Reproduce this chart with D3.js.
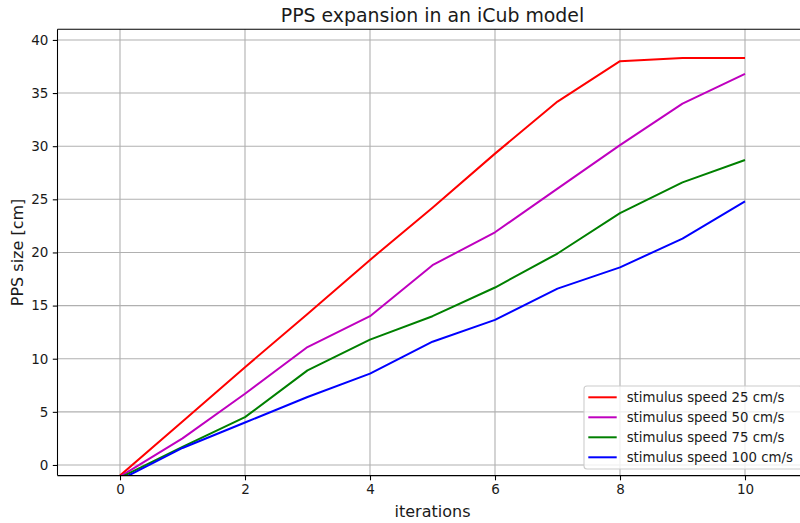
<!DOCTYPE html>
<html>
<head>
<meta charset="utf-8">
<script src="https://cdn.jsdelivr.net/npm/d3@7"></script>
<style>
  html, body { margin: 0; padding: 0; background: #fff; }
  svg { display: block; font-family: "DejaVu Sans", sans-serif; }
</style>
</head>
<body>
<svg id="chart" width="800" height="523"></svg>
<script>
// Iteration index on the x axis
const iterations = [0, 1, 2, 3, 4, 5, 6, 7, 8, 9, 10];

// PPS size [cm] per iteration, one array per stimulus speed
const speed25  = [-1.0, 4.1, 9.2, 14.2, 19.3, 24.2, 29.3, 34.2, 38.0, 38.3, 38.3];
const speed50  = [-1.1, 2.5, 6.7, 11.1, 14.0, 18.8, 21.9, 26.0, 30.1, 34.0, 36.8];
const speed75  = [-1.2, 1.7, 4.5, 8.9, 11.8, 14.0, 16.7, 19.9, 23.7, 26.6, 28.7];
const speed100 = [-1.4, 1.6, 4.0, 6.4, 8.6, 11.6, 13.65, 16.6, 18.6, 21.3, 24.8];

const seriesLabels = [
  "stimulus speed 25 cm/s",
  "stimulus speed 50 cm/s",
  "stimulus speed 75 cm/s",
  "stimulus speed 100 cm/s"
];
const seriesColors = ["#ff0000", "#bf00bf", "#008000", "#0000ff"];

const xTicks = [0, 2, 4, 6, 8, 10];
const yTicks = [0, 5, 10, 15, 20, 25, 30, 35, 40];

const series = [speed25, speed50, speed75, speed100].map((vals, i) => ({
  label: seriesLabels[i],
  color: seriesColors[i],
  points: iterations.map((it, j) => ({ x: it, y: vals[j] }))
}));

const svg = d3.select("#chart");
const margin = { left: 57.5, top: 29.3, right: 807.5, bottom: 475.6 };

const x = d3.scaleLinear().domain([-1, 11]).range([margin.left, margin.right]);
const y = d3.scaleLinear().domain([-1, 41]).range([margin.bottom, margin.top]);

const gridColor = "#b0b0b0";

// clip region for the plotting area
svg.append("defs").append("clipPath").attr("id", "plotClip")
  .append("rect")
  .attr("x", margin.left).attr("y", margin.top)
  .attr("width", margin.right - margin.left)
  .attr("height", margin.bottom - margin.top);

// grid lines
const grid = svg.append("g");
grid.selectAll("line.gx").data(xTicks).enter().append("line")
  .attr("x1", d => x(d)).attr("x2", d => x(d))
  .attr("y1", margin.top).attr("y2", margin.bottom)
  .attr("stroke", gridColor).attr("stroke-width", 1.1);
grid.selectAll("line.gy").data(yTicks).enter().append("line")
  .attr("x1", margin.left).attr("x2", margin.right)
  .attr("y1", d => y(d)).attr("y2", d => y(d))
  .attr("stroke", gridColor).attr("stroke-width", 1.1);

// data lines
const line = d3.line().x(d => x(d.x)).y(d => y(d.y));
svg.append("g").attr("clip-path", "url(#plotClip)")
  .selectAll("path").data(series).enter().append("path")
  .attr("d", d => line(d.points))
  .attr("fill", "none")
  .attr("stroke", d => d.color)
  .attr("stroke-width", 2)
  .attr("stroke-linejoin", "round")
  .attr("stroke-linecap", "butt");

// axes
const xAxis = d3.axisBottom(x).tickValues(xTicks).tickSize(4.7).tickPadding(4.5).tickFormat(d3.format("d"));
const yAxis = d3.axisLeft(y).tickValues(yTicks).tickSize(4.7).tickPadding(4.5).tickFormat(d3.format("d"));

const gx = svg.append("g").attr("transform", `translate(0,${margin.bottom})`).call(xAxis);
const gy = svg.append("g").attr("transform", `translate(${margin.left},0)`).call(yAxis);
[gx, gy].forEach(g => {
  g.select(".domain").remove();
  g.selectAll(".tick line").attr("stroke", "#000").attr("stroke-width", 1.07);
  g.selectAll(".tick text").attr("fill", "#1a1a1a")
    .style("font-family", "'DejaVu Sans', sans-serif").style("font-size", "13.5px");
});

// spines
const spines = svg.append("g").attr("stroke", "#000").attr("stroke-width", 1.07).attr("fill", "none");
spines.append("line").attr("x1", margin.left).attr("x2", margin.left).attr("y1", margin.top).attr("y2", margin.bottom);
spines.append("line").attr("x1", margin.left).attr("x2", margin.right).attr("y1", margin.bottom).attr("y2", margin.bottom);
spines.append("line").attr("x1", margin.left).attr("x2", margin.right).attr("y1", margin.top).attr("y2", margin.top);
spines.append("line").attr("x1", margin.right).attr("x2", margin.right).attr("y1", margin.top).attr("y2", margin.bottom);

// title and axis labels
svg.append("text")
  .attr("x", (margin.left + margin.right) / 2).attr("y", 22)
  .attr("text-anchor", "middle").attr("fill", "#1a1a1a")
  .style("font-size", "18.9px")
  .text("PPS expansion in an iCub model");

svg.append("text")
  .attr("x", (margin.left + margin.right) / 2).attr("y", 517)
  .attr("text-anchor", "middle").attr("fill", "#1a1a1a")
  .style("font-size", "16px")
  .text("iterations");

svg.append("text")
  .attr("transform", `translate(23,${(margin.top + margin.bottom) / 2}) rotate(-90)`)
  .attr("text-anchor", "middle").attr("fill", "#1a1a1a")
  .style("font-size", "16px")
  .text("PPS size [cm]");

// legend
const legend = svg.append("g");
legend.append("rect")
  .attr("x", 584).attr("y", 386)
  .attr("width", 218).attr("height", 83)
  .attr("rx", 3).attr("ry", 3)
  .attr("fill", "#fff").attr("fill-opacity", 0.8)
  .attr("stroke", "#cccccc").attr("stroke-width", 1.07);

const rows = legend.selectAll("g.row").data(series).enter().append("g")
  .attr("transform", (d, i) => `translate(0,${397.3 + i * 20})`);
rows.append("line")
  .attr("x1", 588.3).attr("x2", 616.7).attr("y1", 0).attr("y2", 0)
  .attr("stroke", d => d.color).attr("stroke-width", 2);
rows.append("text")
  .attr("x", 626.7).attr("y", 0).attr("dy", "0.36em")
  .attr("fill", "#1a1a1a")
  .style("font-size", "13.3px")
  .text(d => d.label);
</script>
</body>
</html>
